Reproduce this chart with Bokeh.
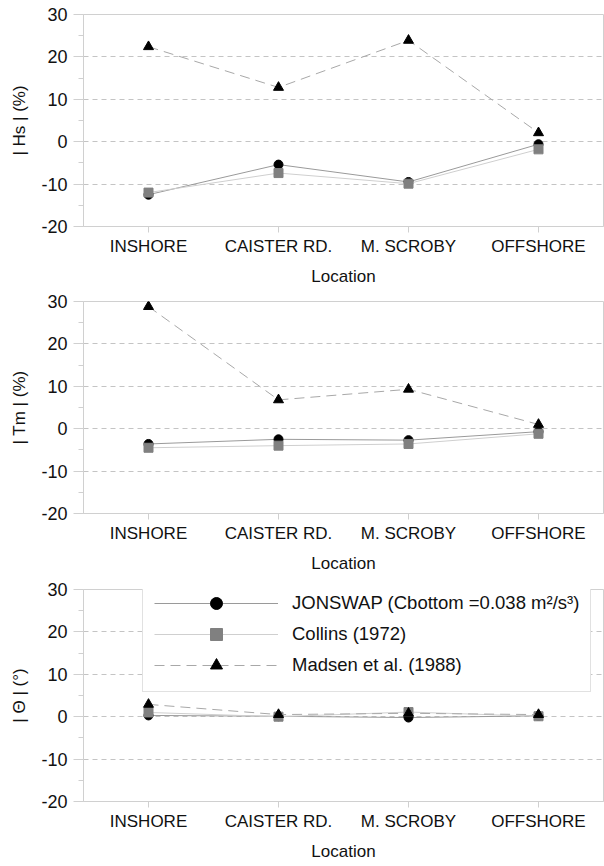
from bokeh.plotting import figure
from bokeh.models import Range1d, FactorRange, FixedTicker, Legend, LegendItem
from bokeh.layouts import column
from bokeh.embed import file_html
from bokeh.resources import INLINE

locations = ["INSHORE", "CAISTER RD.", "M. SCROBY", "OFFSHORE"]

hs_jonswap = [-12.5, -5.4, -9.5, -0.6]
hs_collins = [-12.0, -7.4, -9.9, -1.8]
hs_madsen = [22.4, 12.8, 23.9, 2.1]

tm_jonswap = [-3.6, -2.5, -2.7, -0.7]
tm_collins = [-4.5, -4.0, -3.6, -1.2]
tm_madsen = [28.8, 6.8, 9.3, 1.0]

th_jonswap = [0.3, 0.1, -0.2, 0.2]
th_collins = [1.0, 0.0, 1.1, 0.1]
th_madsen = [2.9, 0.5, 0.8, 0.5]

y_ticks = [-20, -10, 0, 10, 20, 30]
y_minor = [-15, -5, 5, 15, 25]
series_names = ["JONSWAP (Cbottom =0.038 m²/s³)", "Collins (1972)", "Madsen et al. (1988)"]
x_title = "Location"

FONT = "Liberation Sans"
BORDER = "#d0d0d0"


def make_panel(ylabel, jon, col, mad, height, top, left, bottom, legend=False):
    p = figure(width=604, height=height, x_range=FactorRange(*locations, range_padding=0),
               y_range=Range1d(-20, 30), output_backend="svg", toolbar_location=None,
               min_border_left=left, min_border_right=1, min_border_top=top,
               min_border_bottom=bottom)
    p.background_fill_color = "white"
    p.border_fill_color = "white"
    p.outline_line_color = BORDER
    p.outline_line_width = 1

    p.xgrid.visible = False
    p.ygrid.ticker = FixedTicker(ticks=y_ticks)
    p.ygrid.grid_line_color = "#c4c4c4"
    p.ygrid.grid_line_dash = "5 4"
    p.ygrid.grid_line_width = 1

    p.yaxis.ticker = FixedTicker(ticks=y_ticks, minor_ticks=y_minor)
    p.yaxis.major_label_overrides = {t: str(t) for t in y_ticks}
    p.yaxis.axis_label = ylabel
    p.xaxis.axis_label = x_title
    for ax in (p.xaxis, p.yaxis):
        ax.axis_line_color = BORDER
        ax.major_tick_line_color = BORDER
        ax.minor_tick_line_color = BORDER
        ax.major_label_text_font = FONT
        ax.axis_label_text_font = FONT
        ax.axis_label_text_font_style = "normal"
        ax.major_label_text_color = "#111111"
        ax.axis_label_text_color = "#111111"
    p.yaxis.major_tick_in = 0
    p.yaxis.major_tick_out = 10
    p.yaxis.minor_tick_in = 0
    p.yaxis.minor_tick_out = 5
    p.yaxis.major_label_text_font_size = "18px"
    p.yaxis.axis_label_text_font_size = "17px"
    p.yaxis.major_label_standoff = 6
    p.yaxis.axis_label_standoff = 9
    p.xaxis.major_tick_in = 0
    p.xaxis.major_tick_out = 6
    p.xaxis.major_label_text_font_size = "17px"
    p.xaxis.axis_label_text_font_size = "17px"
    p.xaxis.major_label_standoff = 4
    p.xaxis.axis_label_standoff = 8

    r1l = p.line(locations, jon, line_color="#9a9a9a", line_width=1)
    r1m = p.scatter(locations, jon, marker="circle", size=9, fill_color="black", line_color="black")
    r2l = p.line(locations, col, line_color="#cfcfcf", line_width=1)
    r2m = p.scatter(locations, col, marker="square", size=9, fill_color="#808080", line_color="#808080")
    r3l = p.line(locations, mad, line_color="#a8a8a8", line_width=1, line_dash="10 6")
    r3m = p.scatter(locations, mad, marker="triangle", size=10, fill_color="black", line_color="black")

    if legend:
        lg = Legend(items=[
            LegendItem(label=series_names[0], renderers=[r1l, r1m]),
            LegendItem(label=series_names[1], renderers=[r2l, r2m]),
            LegendItem(label=series_names[2], renderers=[r3l, r3m]),
        ], location=(59, 109))
        lg.label_text_font = FONT
        lg.label_text_font_size = "18.5px"
        lg.label_text_color = "#111111"
        lg.glyph_width = 124
        lg.glyph_height = 30
        lg.label_height = 30
        lg.spacing = 1
        lg.padding = 11
        lg.margin = 0
        lg.label_standoff = 14
        lg.border_line_color = "#c4c4c4"
        lg.background_fill_color = "white"
        lg.background_fill_alpha = 1
        p.add_layout(lg, "center")
    return p


p1 = make_panel("| Hs | (%)", hs_jonswap, hs_collins, hs_madsen, 289, 14, 80, 63)
p2 = make_panel("| Tm | (%)", tm_jonswap, tm_collins, tm_madsen, 287, 12, 77, 63)
p3 = make_panel("| Θ | (°)", th_jonswap, th_collins, th_madsen, 290, 13, 83, 65, legend=True)

layout = column(p1, p2, p3, spacing=0)
open("out.html", "w").write(file_html(layout, INLINE))
